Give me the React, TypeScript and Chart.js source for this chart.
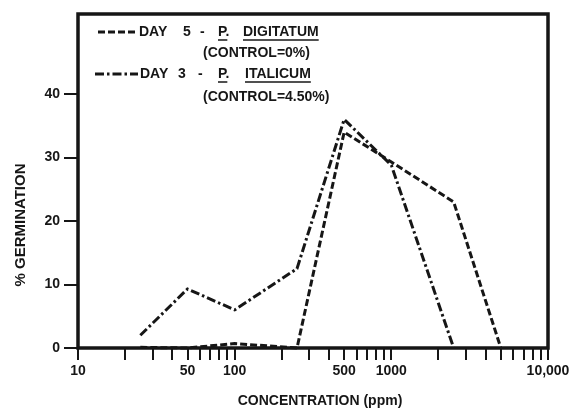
import React, { useEffect, useRef } from "react";
import { Chart, registerables } from "chart.js";

Chart.register(...registerables);

// Day 5 - P. digitatum (dashed)
const digitatumConc = [25, 50, 100, 250, 500, 1000, 2500, 5000];
const digitatumPct = [0.1, 0, 0.7, 0, 34, 29.3, 23, 0];
// Day 3 - P. italicum (dash-dot)
const italicumConc = [25, 50, 100, 250, 500, 1000, 2500];
const italicumPct = [2, 9.3, 6, 12.5, 36, 28.8, 0];

const yTickValues = [0, 10, 20, 30, 40];
const xTickValues = [
  10, 20, 30, 40, 50, 60, 70, 80, 90,
  100, 200, 300, 400, 500, 600, 700, 800, 900,
  1000, 2000, 3000, 4000, 5000, 6000, 7000, 8000, 9000, 10000,
];
const xLabelValues = [10, 50, 100, 500, 1000, 10000];
const xLabelTexts = ["10", "50", "100", "500", "1000", "10,000"];

const INK = "#161616";
const FONT = "'Liberation Sans', Arial, sans-serif";
const DASHED = [7, 3];
const DASHDOT = [9, 3, 2.5, 3];

const decor = {
  id: "decor",
  afterDraw(chart: any) {
    const { ctx, chartArea: a } = chart;
    ctx.save();
    // frame
    ctx.strokeStyle = INK;
    ctx.lineWidth = 3.5;
    ctx.setLineDash([]);
    ctx.strokeRect(a.left, a.top, a.right - a.left, a.bottom - a.top);

    ctx.fillStyle = INK;
    ctx.textBaseline = "middle";
    ctx.textAlign = "left";
    ctx.font = `bold 14px ${FONT}`;

    const underline = (x: number, y: number, text: string) => {
      const w = ctx.measureText(text).width;
      ctx.save();
      ctx.setLineDash([]);
      ctx.lineWidth = 1.5;
      ctx.beginPath();
      ctx.moveTo(x, y + 8);
      ctx.lineTo(x + w, y + 8);
      ctx.stroke();
      ctx.restore();
    };

    const sample = (x1: number, x2: number, y: number, dash: number[]) => {
      ctx.save();
      ctx.lineWidth = 3;
      ctx.setLineDash(dash);
      ctx.beginPath();
      ctx.moveTo(x1, y);
      ctx.lineTo(x2, y);
      ctx.stroke();
      ctx.restore();
    };

    // entry 1
    const y1 = 32;
    sample(98, 137, y1, DASHED);
    ctx.fillText("DAY", 139, y1);
    ctx.fillText("5", 183, y1);
    ctx.fillText("-", 200, y1);
    ctx.fillText("P.", 218, y1);
    underline(218, y1, "P");
    ctx.fillText("DIGITATUM", 243, y1);
    underline(243, y1, "DIGITATUM");
    ctx.fillText("(CONTROL=0%)", 203, 53);

    // entry 2
    const y3 = 74;
    sample(95, 138, y3, DASHDOT);
    ctx.fillText("DAY", 140, y3);
    ctx.fillText("3", 178, y3);
    ctx.fillText("-", 198, y3);
    ctx.fillText("P.", 218, y3);
    underline(218, y3, "P");
    ctx.fillText("ITALICUM", 245, y3);
    underline(245, y3, "ITALICUM");
    ctx.fillText("(CONTROL=4.50%)", 203, 97);

    // axis titles
    ctx.textAlign = "center";
    ctx.font = `bold 14px ${FONT}`;
    ctx.fillText("CONCENTRATION (ppm)", 320, 401);
    ctx.save();
    ctx.translate(21, 225);
    ctx.rotate(-Math.PI / 2);
    ctx.font = `bold 15px ${FONT}`;
    ctx.fillText("% GERMINATION", 0, 0);
    ctx.restore();

    ctx.restore();
  },
};

export default function App() {
  const ref = useRef<HTMLCanvasElement>(null);

  useEffect(() => {
    const canvas = ref.current;
    if (!canvas) return;
    const chart = new Chart(canvas, {
      type: "line",
      data: {
        datasets: [
          {
            label: "DAY 5 - P. DIGITATUM",
            data: digitatumConc.map((c, i) => ({ x: c, y: digitatumPct[i] })),
            borderColor: INK,
            borderWidth: 3,
            borderDash: DASHED,
            pointRadius: 0,
            tension: 0,
            fill: false,
            clip: 6,
          },
          {
            label: "DAY 3 - P. ITALICUM",
            data: italicumConc.map((c, i) => ({ x: c, y: italicumPct[i] })),
            borderColor: INK,
            borderWidth: 3,
            borderDash: DASHDOT,
            pointRadius: 0,
            tension: 0,
            fill: false,
            clip: 6,
          },
        ],
      },
      options: {
        responsive: false,
        animation: false,
        devicePixelRatio: 1,
        layout: { padding: { top: 14, right: 27, left: 0, bottom: 0 } },
        plugins: {
          legend: { display: false },
          tooltip: { enabled: false },
          title: { display: false },
        },
        scales: {
          x: {
            type: "logarithmic",
            min: 10,
            max: 10000,
            border: { display: false },
            grid: {
              drawOnChartArea: false,
              drawTicks: true,
              tickLength: 12,
              lineWidth: 2,
              color: INK,
            },
            afterBuildTicks: (s: any) => {
              s.ticks = xTickValues.map((v) => ({ value: v }));
            },
            afterFit: (s: any) => {
              s.height = 61;
            },
            ticks: {
              autoSkip: false,
              maxRotation: 0,
              minRotation: 0,
              padding: 3,
              color: INK,
              font: { family: FONT, size: 14, weight: "bold" },
              callback: (value: any) => {
                const i = xLabelValues.indexOf(Number(value));
                return i >= 0 ? xLabelTexts[i] : "";
              },
            },
          },
          y: {
            type: "linear",
            min: 0,
            max: 52.6,
            border: { display: false },
            grid: {
              drawOnChartArea: false,
              drawTicks: true,
              tickLength: 14,
              lineWidth: 2,
              color: INK,
            },
            afterBuildTicks: (s: any) => {
              s.ticks = yTickValues.map((v) => ({ value: v }));
            },
            afterFit: (s: any) => {
              s.width = 78;
            },
            ticks: {
              padding: 4,
              color: INK,
              font: { family: FONT, size: 14, weight: "bold" },
            },
          },
        },
      },
      plugins: [decor],
    } as any);
    return () => chart.destroy();
  }, []);

  return (
    <div
      style={{
        position: "absolute",
        left: 0,
        top: 0,
        width: 575,
        height: 409,
        background: "#ffffff",
      }}
    >
      <canvas
        ref={ref}
        width={575}
        height={409}
        style={{ display: "block", width: 575, height: 409 }}
      />
    </div>
  );
}
